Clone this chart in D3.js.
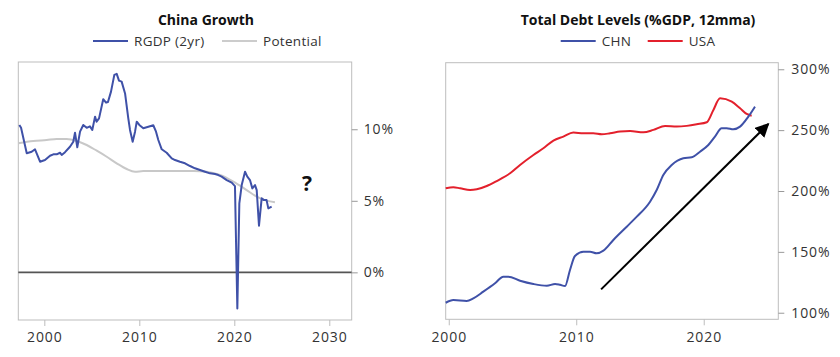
<!DOCTYPE html>
<html><head><meta charset="utf-8">
<script src="https://cdn.jsdelivr.net/npm/d3@7"></script>
<style>
body{margin:0;background:#fff;}
svg{display:block;font-family:"Open Sans", sans-serif;}
</style></head>
<body><svg id="c" width="840" height="357"></svg>
<script>
// ---- Left chart data: China Growth ----
const rgdpYears = [1997.37,1997.55,1998.15,1998.67,1999.02,1999.55,2000.07,2000.6,2000.95,2001.3,2001.65,2001.83,2002.18,2002.7,2003.05,2003.23,2003.47,2003.76,2004.1,2004.46,2004.8,2005.05,2005.34,2005.5,2005.76,2006.2,2006.5,2006.7,2007.02,2007.37,2007.62,2007.86,2008.14,2008.5,2008.84,2009.02,2009.3,2009.55,2009.73,2010.0,2010.42,2010.95,2011.47,2011.76,2012.0,2012.36,2012.88,2013.41,2013.76,2014.28,2014.81,2015.34,2015.86,2016.39,2016.92,2017.44,2017.97,2018.32,2018.67,2019.2,2019.73,2020.07,2020.32,2020.53,2020.78,2021.13,2021.37,2021.65,2021.9,2022.18,2022.36,2022.6,2022.88,2023.12,2023.4,2023.58,2023.93];
const rgdpValues = [10.3,10.1,8.32,8.43,8.6,7.73,7.85,8.15,8.25,8.25,8.36,8.2,8.4,8.78,9.13,9.76,8.74,9.83,10.3,10.1,10.2,9.95,10.88,10.53,10.76,12.1,11.86,11.9,12.63,13.8,13.87,13.4,13.33,12.5,10.76,9.95,9.13,9.83,10.53,10.3,10.07,10.18,10.28,9.83,9.25,8.6,8.36,7.97,7.85,7.73,7.62,7.43,7.27,7.15,7.03,6.92,6.87,6.8,6.69,6.45,6.27,6.03,-2.52,4.82,6.1,7.03,6.69,6.45,5.87,6.1,5.75,3.26,5.17,5.05,5.05,4.47,4.59];
const potentialYears = [1997.26,1998.84,2000.25,2001.3,2002.35,2003.41,2004.46,2005.52,2006.57,2007.62,2008.67,2009.55,2010.42,2012.18,2013.94,2015.69,2017.1,2018.5,2019.9,2021.3,2022.36,2023.4,2024.28];
const potentialValues = [9.02,9.18,9.25,9.32,9.32,9.18,8.9,8.5,8.08,7.62,7.22,7.03,7.08,7.08,7.08,7.08,7.03,6.8,6.34,5.75,5.29,5.01,4.9];
const leftXTicks = [2000,2010,2020,2030];
const leftYTicks = [0,5,10];

// ---- Right chart data: Total Debt Levels ----
const usaYears = [1999.76,2000.36,2000.89,2001.67,2002.2,2002.98,2003.76,2004.81,2005.59,2006.64,2007.42,2008.21,2008.99,2009.77,2010.56,2011.34,2012.0,2012.65,2013.44,2014.22,2015.27,2016.05,2016.97,2017.88,2018.67,2019.45,2020.24,2020.76,2021.28,2022.2,2022.85,2023.37,2023.76];
const usaValues = [202.2,203.1,202.2,200.8,201.4,204.1,208.2,214.6,221.4,229.6,235.1,241.4,244.7,248,247.4,247.4,246.6,247.4,248.8,249.3,248.2,250.2,253.5,252.9,253.5,254.8,256.5,266.6,276.2,273.4,268,263.3,261.9];
const chnYears = [1999.76,2000.36,2001.41,2001.93,2002.71,2003.63,2004.28,2004.67,2005.59,2006.64,2007.69,2008.34,2008.73,2009.12,2009.51,2009.9,2010.56,2011.08,2011.6,2012.13,2012.91,2013.96,2014.75,2015.79,2016.31,2016.83,2017.49,2018.4,2019.06,2019.71,2020.36,2020.88,2021.41,2021.8,2022.32,2022.85,2023.5,2024.02];
const chnValues = [108.2,110.4,109.6,111.8,117.3,124.2,129.6,129.6,126.3,123.6,122.2,123.6,122.9,121.9,135.1,146.6,150.1,150.1,148.8,151,159.8,170.7,178.9,191.2,200.8,213.2,221.4,226.9,227.7,232.3,237.8,244.7,251.6,251.6,250.7,252.9,261.1,269.3];
const rightXTicks = [2000,2010,2020];
const rightYTicks = [100,150,200,250,300];
const arrowYears = [2011.95,2025.07];
const arrowValues = [119.2,255.1];

const BLUE="#3f51a8", RED="#e3202c", GRAY="#c8c8c8", TXT="#333", FRAME="#bdbdbd";
const FONT='"Open Sans", sans-serif';
const svg=d3.select("#c");
const defs=svg.append("defs");
defs.append("marker").attr("id","ah").attr("viewBox","0 0 10 10").attr("refX",9).attr("refY",5)
 .attr("markerWidth",7).attr("markerHeight",7).attr("markerUnits","strokeWidth").attr("orient","auto")
 .append("path").attr("d","M0,0L10,5L0,10z").attr("fill","#000");

function frame(g,x0,x1,y0,y1){
  g.append("rect").attr("x",x0).attr("y",y0).attr("width",x1-x0).attr("height",y1-y0)
   .attr("fill","none").attr("stroke",FRAME).attr("stroke-width",1);
}
function legend(g,items,y){
  items.forEach(it=>{
    g.append("line").attr("x1",it.x).attr("x2",it.x+35).attr("y1",y).attr("y2",y).attr("stroke",it.c).attr("stroke-width",2);
    g.append("text").attr("x",it.x+41).attr("y",y+4.8).attr("font-size",13.5).attr("letter-spacing",0.3).attr("fill",TXT).text(it.t);
  });
}
function styleAxisText(sel){
  sel.selectAll("text").attr("font-size",14).attr("letter-spacing",0.9).attr("fill",TXT).attr("font-family",FONT);
}

// ---------- Left chart ----------
{
  const L=18.3,R=351.7,T=62,B=320;
  const x=d3.scaleLinear().domain([1997.26,2032.36]).range([L,R]);
  const y=d3.scaleLinear().domain([-3.33,14.7]).range([B,T]);
  const g=svg.append("g");
  svg.append("text").attr("x",206).attr("y",25).attr("text-anchor","middle").attr("font-size",14).attr("font-weight",700).attr("fill","#111").text("China Growth");
  legend(svg,[{x:93,c:BLUE,t:"RGDP (2yr)"},{x:222,c:"#cccccc",t:"Potential"}],41);
  frame(g,L,R,T,B);
  g.append("line").attr("x1",L).attr("x2",R).attr("y1",y(0)).attr("y2",y(0)).attr("stroke","#555").attr("stroke-width",1.6);
  const xa=g.append("g").attr("transform",`translate(0,${B})`).call(d3.axisBottom(x).tickValues(leftXTicks).tickFormat(d3.format("d")).tickSize(6).tickSizeOuter(0));
  xa.select(".domain").remove();
  xa.selectAll("line").attr("stroke",FRAME);
  styleAxisText(xa); xa.selectAll("text").attr("dy","0.95em");
  const ya=g.append("g").attr("transform",`translate(${R},0)`).call(d3.axisRight(y).tickValues(leftYTicks).tickFormat(d=>d+"%").tickSize(6).tickPadding(6));
  ya.select(".domain").remove();
  ya.selectAll("line").attr("stroke","#999");
  styleAxisText(ya);
  const pot=potentialYears.map((d,i)=>[d,potentialValues[i]]);
  g.append("path").datum(pot).attr("fill","none").attr("stroke",GRAY).attr("stroke-width",2)
   .attr("d",d3.line().x(d=>x(d[0])).y(d=>y(d[1])).curve(d3.curveMonotoneX));
  const rg=rgdpYears.map((d,i)=>[d,rgdpValues[i]]);
  g.append("path").datum(rg).attr("fill","none").attr("stroke",BLUE).attr("stroke-width",2).attr("stroke-linejoin","round")
   .attr("d",d3.line().x(d=>x(d[0])).y(d=>y(d[1])));
  g.append("text").attr("x",307).attr("y",191).attr("text-anchor","middle").attr("font-size",21).attr("font-weight",700).attr("fill","#111").text("?");
}

// ---------- Right chart ----------
{
  const L=445.7,R=778.3,T=62.7,B=319.3;
  const x=d3.scaleLinear().domain([1999.76,2025.85]).range([L,R]);
  const y=d3.scaleLinear().domain([94.6,305.4]).range([B,T]);
  const g=svg.append("g");
  svg.append("text").attr("x",638).attr("y",25).attr("text-anchor","middle").attr("font-size",14).attr("font-weight",700).attr("fill","#111").text("Total Debt Levels (%GDP, 12mma)");
  legend(svg,[{x:560.7,c:BLUE,t:"CHN"},{x:647.7,c:RED,t:"USA"}],41);
  frame(g,L,R,T,B);
  const xa=g.append("g").attr("transform",`translate(0,${B})`).call(d3.axisBottom(x).tickValues(rightXTicks).tickFormat(d3.format("d")).tickSize(6).tickSizeOuter(0));
  xa.select(".domain").remove();
  xa.selectAll("line").attr("stroke",FRAME);
  styleAxisText(xa); xa.selectAll("text").attr("dy","0.95em");
  const ya=g.append("g").attr("transform",`translate(${R},0)`).call(d3.axisRight(y).tickValues(rightYTicks).tickFormat(d=>d+"%").tickSize(6).tickPadding(7));
  ya.select(".domain").remove();
  ya.selectAll("line").attr("stroke","#999");
  styleAxisText(ya);
  const ln=d3.line().x(d=>x(d[0])).y(d=>y(d[1])).curve(d3.curveMonotoneX);
  g.append("path").datum(usaYears.map((d,i)=>[d,usaValues[i]])).attr("fill","none").attr("stroke",RED).attr("stroke-width",2).attr("d",ln);
  g.append("path").datum(chnYears.map((d,i)=>[d,chnValues[i]])).attr("fill","none").attr("stroke",BLUE).attr("stroke-width",2).attr("d",ln);
  g.append("line").attr("x1",x(arrowYears[0])).attr("y1",y(arrowValues[0])).attr("x2",x(arrowYears[1])).attr("y2",y(arrowValues[1]))
   .attr("stroke","#000").attr("stroke-width",2).attr("marker-end","url(#ah)");
}
</script></body></html>
